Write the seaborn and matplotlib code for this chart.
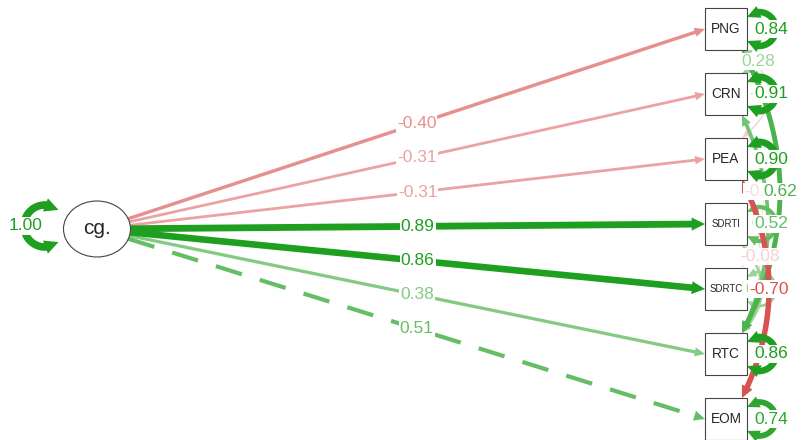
import numpy as np
import matplotlib
matplotlib.use("Agg")
import matplotlib.pyplot as plt
from matplotlib.patches import Rectangle, Ellipse, Polygon
from matplotlib.colors import to_rgb
import seaborn as sns

sns.set_theme(style="white")
plt.rcParams["font.family"] = ["Liberation Sans", "DejaVu Sans"]

# ---- model estimates (standardised) ----
latent = "cg."
latent_variance = 1.00
indicators = ["PNG", "CRN", "PEA", "SDRTI", "SDRTC", "RTC", "EOM"]
loadings = [-0.40, -0.31, -0.31, 0.89, 0.86, 0.38, 0.51]
fixed_loading = [False, False, False, False, False, False, True]
residuals = [0.84, 0.91, 0.90, 0.52, 0.30, 0.86, 0.74]
cov_from = ["PNG", "PNG", "CRN", "PNG", "CRN", "SDRTI", "PEA", "PEA"]
cov_to = ["CRN", "PEA", "SDRTC", "RTC", "RTC", "RTC", "RTC", "EOM"]
cov_values = [0.28, -0.10, -0.02, 0.62, 0.45, 0.27, -0.08, -0.70]

# ---- drawing style ----
POS = "#1F9F1F"
NEG = "#D43B3B"
PX = 0.72  # points per pixel at 100 dpi
W, H = 801, 440

LAT_C = (97.0, 229.0)
LAT_RX, LAT_RY = 33.5, 28.0
BOX_X, BOX_S = 705.0, 42.0
BOX_Y0, BOX_DY = 29.0, 65.0
ARC_X = 742.0
cov_bulge = [16, 27, 22, 38, 26, 20, 18, 27]
LABEL_SIZE = 12.5


def shade(w):
    a = float(np.clip(0.15 + 1.05 * abs(w), 0, 1))
    base = np.array(to_rgb(POS if w > 0 else NEG))
    return tuple(base * a + (1 - a))


def width_px(w):
    return 0.6 + 7.0 * abs(w)


def head_dims(w):
    return 8.0 + 6.0 * abs(w), 3.0 + 4.0 * abs(w)


def resample(pts, a, b, n=120):
    seg = np.hypot(*np.diff(pts, axis=0).T)
    s = np.concatenate([[0.0], np.cumsum(seg)])
    ss = np.linspace(a, s[-1] - b, n)
    return np.column_stack([np.interp(ss, s, pts[:, 0]), np.interp(ss, s, pts[:, 1])]), s


def arrow_head(ax, tip, back, w, col, z):
    L, hw = head_dims(w)
    d = np.asarray(tip) - np.asarray(back)
    d = d / np.hypot(*d)
    n = np.array([-d[1], d[0]])
    base = np.asarray(tip) - d * L
    ax.add_patch(Polygon([tip, base + n * hw, base - n * hw], closed=True,
                         facecolor=col, edgecolor="none", zorder=z))


def draw_path(ax, pts, w, heads, dashed=False):
    col = shade(w)
    L, _ = head_dims(w)
    z = 2 + abs(w)
    a = L * 0.85 if "start" in heads else 0.0
    b = L * 0.85 if "end" in heads else 0.0
    line, s = resample(pts, a, b)
    sns.lineplot(x=line[:, 0], y=line[:, 1], sort=False, estimator=None, ax=ax,
                 color=col, linewidth=width_px(w) * PX, zorder=z,
                 linestyle=(0, (6.5, 4.5)) if dashed else "-",
                 solid_capstyle="butt", dash_capstyle="butt")
    if "end" in heads:
        back = np.array([np.interp(s[-1] - L, s, pts[:, 0]), np.interp(s[-1] - L, s, pts[:, 1])])
        arrow_head(ax, pts[-1], back, w, col, z)
    if "start" in heads:
        back = np.array([np.interp(L, s, pts[:, 0]), np.interp(L, s, pts[:, 1])])
        arrow_head(ax, pts[0], back, w, col, z)


def label(ax, x, y, w, size=LABEL_SIZE):
    ax.text(x, y, f"{w:.2f}", color=shade(w), fontsize=size, ha="center", va="center",
            zorder=6 + abs(w),
            bbox=dict(boxstyle="square,pad=0.06", facecolor="white", edgecolor="none"))


fig = plt.figure(figsize=(W / 100, H / 100), dpi=100)
ax = fig.add_axes([0, 0, 1, 1])
ax.set_xlim(0, W)
ax.set_ylim(H, 0)
ax.axis("off")

box_y = {name: BOX_Y0 + i * BOX_DY for i, name in enumerate(indicators)}

# factor loadings
for name, lam, fixed in zip(indicators, loadings, fixed_loading):
    tip = np.array([BOX_X, box_y[name]])
    d = tip - np.array(LAT_C)
    t = 1.0 / np.sqrt((d[0] / LAT_RX) ** 2 + (d[1] / LAT_RY) ** 2)
    start = np.array(LAT_C) + t * d
    draw_path(ax, np.array([start, tip]), lam, heads=("end",), dashed=fixed)
    mid = (start + tip) / 2
    label(ax, mid[0], mid[1], lam)

# residual covariances between indicators
tt = np.linspace(0, 1, 100)[:, None]
for a_name, b_name, c, bulge in zip(cov_from, cov_to, cov_values, cov_bulge):
    p0 = np.array([ARC_X, box_y[a_name] + BOX_S / 2])
    p2 = np.array([ARC_X, box_y[b_name] - BOX_S / 2])
    p1 = np.array([ARC_X + 2 * bulge, (p0[1] + p2[1]) / 2])
    curve = (1 - tt) ** 2 * p0 + 2 * (1 - tt) * tt * p1 + tt ** 2 * p2
    draw_path(ax, curve, c, heads=("start", "end"))
    label(ax, ARC_X + bulge, (p0[1] + p2[1]) / 2, c)

# residual variances
for name, r in zip(indicators, residuals):
    cx, cy, rad = BOX_X + BOX_S + 12, box_y[name], 17.0
    th = np.radians(np.linspace(135, -135, 120))
    loop = np.column_stack([cx + rad * np.cos(th), cy - rad * np.sin(th)])
    draw_path(ax, loop, r, heads=("start", "end"))
    label(ax, BOX_X + BOX_S + 24, cy, r)

# latent variance
cx, cy, rad = 45.0, 226.0, 21.0
th = np.radians(np.linspace(50, 310, 120))
loop = np.column_stack([cx + rad * np.cos(th), cy - rad * np.sin(th)])
draw_path(ax, loop, latent_variance, heads=("start", "end"))
label(ax, 26, cy, latent_variance)

# nodes
ax.add_patch(Ellipse(LAT_C, 2 * LAT_RX, 2 * LAT_RY, facecolor="white",
                     edgecolor="#444444", linewidth=0.8, zorder=4))
ax.text(LAT_C[0], LAT_C[1], latent, fontsize=15, ha="center", va="center", zorder=4.5)
for name in indicators:
    y = box_y[name]
    ax.add_patch(Rectangle((BOX_X, y - BOX_S / 2), BOX_S, BOX_S, facecolor="white",
                           edgecolor="#444444", linewidth=0.8, zorder=4))
    ax.text(BOX_X + BOX_S / 2, y, name, fontsize=9.8 if len(name) <= 3 else 7,
            ha="center", va="center", zorder=4.5)

fig.savefig("out.png", dpi=100)
